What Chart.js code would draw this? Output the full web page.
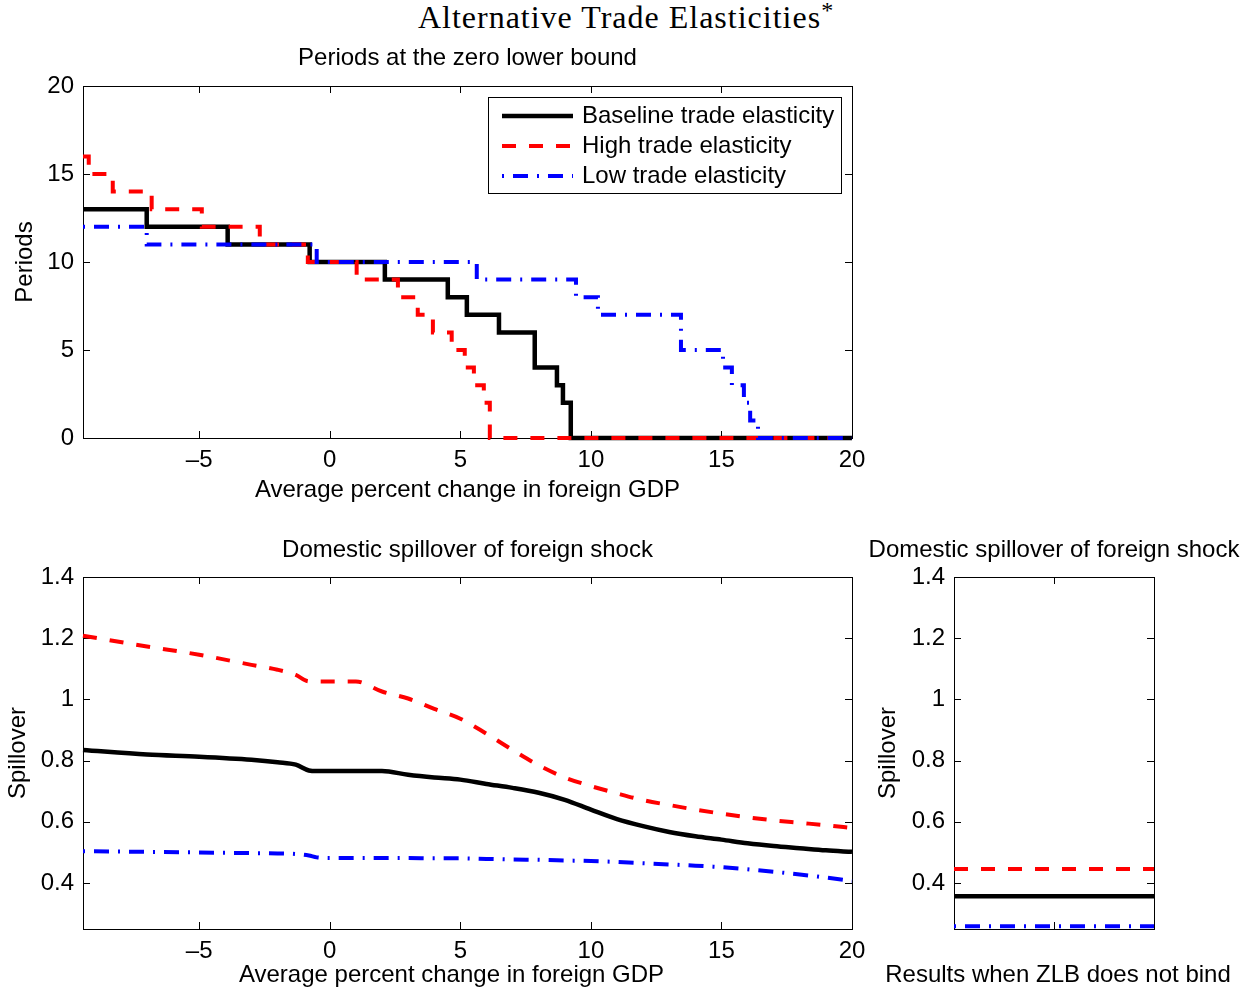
<!DOCTYPE html>
<html>
<head>
<meta charset="utf-8">
<script src="https://cdn.jsdelivr.net/npm/chart.js@4.4.1/dist/chart.umd.min.js"></script>
<style>
  html, body { margin: 0; padding: 0; background: #fff; }
  #page { position: relative; width: 1252px; height: 991px; overflow: hidden; background: #fff; }
  #title {
    position: absolute; left: 0; top: -1px; width: 1252px; text-align: center;
    font-family: "Liberation Serif", serif; font-size: 32px; line-height: 36px;
    letter-spacing: 1px; color: #000;
  }
  #title sup { font-size: 24px; vertical-align: 10px; line-height: 0; }
  canvas { position: absolute; }
</style>
</head>
<body>
<div id="page">
  <div id="title">Alternative Trade Elasticities<sup>*</sup></div>
  <canvas id="zlb" width="880" height="510" style="left:0;top:0"></canvas>
  <canvas id="spill" width="880" height="491" style="left:0;top:500px"></canvas>
  <canvas id="nobind" width="382" height="491" style="left:870px;top:500px"></canvas>
</div>
<script>
const seriesNames = ['Baseline trade elasticity', 'High trade elasticity', 'Low trade elasticity'];

// periods at the ZLB: x = where each step starts, y = number of periods
const baseZlbX = [-9.45, -7.01, -3.91, -0.77, 2.11, 4.52, 5.25, 6.48, 7.85, 8.70, 8.93, 9.23, 20];
const baseZlbY = [13, 12, 11, 10, 9, 8, 7, 6, 4, 3, 2, 0, 0];
const highZlbX = [-9.45, -9.23, -8.31, -6.82, -4.90, -2.68, -0.84, 1.03, 2.61, 3.37, 3.95, 4.67, 5.17, 5.52, 5.90, 6.13, 20];
const highZlbY = [16, 15, 14, 13, 12, 11, 10, 9, 8, 7, 6, 5, 4, 3, 2, 0, 0];
const lowZlbX = [-9.45, -7.01, -0.50, 5.63, 9.43, 10.27, 13.45, 15.06, 15.40, 15.86, 16.10, 16.40, 20];
const lowZlbY = [12, 11, 10, 9, 8, 7, 5, 4, 3, 2, 1, 0, 0];

// domestic spillover of the foreign shock
const spillX = [-9.45, -7, -5, -3, -2, -1.3, -0.8, -0.5, 0, 1, 2, 3, 4, 5, 6, 7, 8, 9, 10, 11, 12, 13, 14, 15, 16, 17, 18, 19, 20];
const baseSpill = [0.835, 0.820, 0.813, 0.803, 0.795, 0.787, 0.768, 0.766, 0.766, 0.766, 0.766, 0.754, 0.745, 0.738, 0.724, 0.711, 0.695, 0.672, 0.640, 0.609, 0.586, 0.567, 0.553, 0.542, 0.530, 0.521, 0.514, 0.507, 0.502];
const highSpill = [1.208, 1.173, 1.146, 1.113, 1.097, 1.080, 1.059, 1.059, 1.059, 1.059, 1.026, 1.003, 0.969, 0.937, 0.888, 0.835, 0.785, 0.745, 0.717, 0.693, 0.671, 0.655, 0.640, 0.627, 0.615, 0.605, 0.597, 0.589, 0.580];
const lowSpill = [0.504, 0.502, 0.500, 0.498, 0.497, 0.495, 0.490, 0.484, 0.482, 0.482, 0.482, 0.482, 0.481, 0.481, 0.479, 0.477, 0.476, 0.474, 0.472, 0.469, 0.465, 0.461, 0.457, 0.452, 0.445, 0.437, 0.428, 0.418, 0.407];

// results when the ZLB does not bind (base, high, low)
const noBindX = [0, 2];
const noBindSpill = [0.357, 0.446, 0.259];

const gdpTicks = [-5, 0, 5, 10, 15, 20];
const periodTicks = [0, 5, 10, 15, 20];
const spillTicks = [0.4, 0.6, 0.8, 1, 1.2, 1.4];
const noBindTicks = [1];

const styles = [
  { color: '#000000', dash: [], width: 4.5, order: 3 },
  { color: '#ff0000', dash: [14, 13], width: 4, order: 2 },
  { color: '#0000ff', dash: [2, 9, 15, 9], width: 4, order: 1 },
];

Chart.defaults.font.family = '"Liberation Sans", Arial, sans-serif';
Chart.defaults.font.size = 24;
Chart.defaults.color = '#000';

const FONT = '24px "Liberation Sans", Arial, sans-serif';

function series(i, xs, ys, extra) {
  const s = styles[i];
  return Object.assign({
    label: seriesNames[i],
    data: xs.map((x, k) => ({ x: x, y: ys[k] })),
    borderColor: s.color,
    borderDash: s.dash,
    borderWidth: s.width,
    order: s.order,
    pointRadius: 0,
    fill: false,
    clip: 6,
  }, extra || {});
}

// box round the plot, inward tick marks, titles, optional legend
function frame(opts) {
  return {
    id: 'frame',
    beforeDatasetsDraw(chart) {
      const { ctx, chartArea: a, scales } = chart;
      ctx.save();
      ctx.strokeStyle = '#000';
      ctx.lineWidth = 1;
      ctx.strokeRect(a.left + 0.5, a.top + 0.5, a.right - a.left, a.bottom - a.top);
      ctx.beginPath();
      scales.x.ticks.forEach(t => {
        const px = Math.round(scales.x.getPixelForValue(t.value)) + 0.5;
        ctx.moveTo(px, a.bottom); ctx.lineTo(px, a.bottom - 7);
        ctx.moveTo(px, a.top); ctx.lineTo(px, a.top + 7);
      });
      scales.y.ticks.forEach(t => {
        const py = Math.round(scales.y.getPixelForValue(t.value)) + 0.5;
        ctx.moveTo(a.left, py); ctx.lineTo(a.left + 7, py);
        ctx.moveTo(a.right, py); ctx.lineTo(a.right - 7, py);
      });
      ctx.stroke();
      ctx.restore();
    },
    afterDatasetsDraw(chart) {
      const { ctx, chartArea: a } = chart;
      const mid = (a.left + a.right) / 2;
      ctx.save();
      ctx.font = FONT;
      ctx.fillStyle = '#000';
      ctx.textAlign = 'center';
      ctx.textBaseline = 'middle';
      ctx.fillText(opts.title, mid, a.top - opts.gap);
      if (opts.xTitle) {
        ctx.fillText(opts.xTitle, mid + opts.xTitleDx, a.bottom + opts.xTitleDy);
      }
      if (opts.legend) {
        const sets = chart.data.datasets;
        const textW = Math.max(...sets.map(d => ctx.measureText(d.label).width));
        const w = Math.round(14 + 71 + 9 + textW + 7);
        const h = 96;
        const x0 = a.right - 11 - w;
        const y0 = a.top + 11;
        ctx.fillStyle = '#fff';
        ctx.fillRect(x0, y0, w, h);
        ctx.strokeStyle = '#000';
        ctx.lineWidth = 1;
        ctx.strokeRect(x0 + 0.5, y0 + 0.5, w, h);
        sets.forEach((d, i) => {
          const y = y0 + 19 + i * 30;
          ctx.beginPath();
          ctx.setLineDash(d.borderDash);
          ctx.strokeStyle = d.borderColor;
          ctx.lineWidth = d.borderWidth;
          ctx.moveTo(x0 + 14, y);
          ctx.lineTo(x0 + 85, y);
          ctx.stroke();
          ctx.setLineDash([]);
          ctx.fillStyle = '#000';
          ctx.textAlign = 'left';
          ctx.fillText(d.label, x0 + 94, y);
        });
      }
      ctx.restore();
    }
  };
}

function fixedTicks(list) {
  return s => { s.ticks = list.map(v => ({ value: v })); };
}
const gdpLabel = v => String(v).replace('-', '\u2013');
const spillLabel = v => String(Number(v.toFixed(1)));
const noGrid = { display: false, drawTicks: false };

// top: periods at the zero lower bound
new Chart(document.getElementById('zlb'), {
  type: 'line',
  data: {
    datasets: [
      series(0, baseZlbX, baseZlbY, { stepped: 'before' }),
      series(1, highZlbX, highZlbY, { stepped: 'before' }),
      series(2, lowZlbX, lowZlbY, { stepped: 'before' }),
    ]
  },
  options: {
    responsive: false,
    animation: false,
    layout: { padding: { top: 86, right: 28, left: 0, bottom: 0 } },
    plugins: { legend: { display: false }, title: { display: false }, tooltip: { enabled: false } },
    scales: {
      x: {
        type: 'linear', min: -9.45, max: 20,
        afterBuildTicks: fixedTicks(gdpTicks),
        afterFit: s => { s.height = 72; },
        grid: noGrid, border: { display: false },
        ticks: { padding: 8, callback: gdpLabel, maxRotation: 0 },
        title: { display: true, text: 'Average percent change in foreign GDP', padding: { top: 0, bottom: 5 } }
      },
      y: {
        type: 'linear', min: 0, max: 20,
        afterBuildTicks: fixedTicks(periodTicks),
        afterFit: s => { s.width = 83; },
        grid: noGrid, border: { display: false },
        ticks: { padding: 9 },
        title: { display: true, text: 'Periods', padding: { top: 11, bottom: 0 } }
      }
    }
  },
  plugins: [frame({ title: 'Periods at the zero lower bound', gap: 28, legend: true })]
});

// bottom left: spillover against foreign GDP
new Chart(document.getElementById('spill'), {
  type: 'line',
  data: {
    datasets: [
      series(0, spillX, baseSpill, { cubicInterpolationMode: 'monotone' }),
      series(1, spillX, highSpill, { cubicInterpolationMode: 'monotone' }),
      series(2, spillX, lowSpill, { cubicInterpolationMode: 'monotone' }),
    ]
  },
  options: {
    responsive: false,
    animation: false,
    layout: { padding: { top: 77, right: 28, left: 0, bottom: 0 } },
    plugins: { legend: { display: false }, title: { display: false }, tooltip: { enabled: false } },
    scales: {
      x: {
        type: 'linear', min: -9.45, max: 20,
        afterBuildTicks: fixedTicks(gdpTicks),
        afterFit: s => { s.height = 62; },
        grid: noGrid, border: { display: false },
        ticks: { padding: 8, callback: gdpLabel, maxRotation: 0 },
        title: { display: false }
      },
      y: {
        type: 'linear', min: 0.25, max: 1.4,
        afterBuildTicks: fixedTicks(spillTicks),
        afterFit: s => { s.width = 83; },
        grid: noGrid, border: { display: false },
        ticks: { padding: 9, callback: spillLabel },
        title: { display: true, text: 'Spillover', padding: { top: 4, bottom: 0 } }
      }
    }
  },
  plugins: [frame({
    title: 'Domestic spillover of foreign shock', gap: 27,
    xTitle: 'Average percent change in foreign GDP', xTitleDx: -16, xTitleDy: 46
  })]
});

// bottom right: spillover when the ZLB does not bind
new Chart(document.getElementById('nobind'), {
  type: 'line',
  data: {
    datasets: noBindSpill.map((v, i) => series(i, noBindX, noBindX.map(() => v)))
  },
  options: {
    responsive: false,
    animation: false,
    layout: { padding: { top: 77, right: 98, left: 0, bottom: 0 } },
    plugins: { legend: { display: false }, title: { display: false }, tooltip: { enabled: false } },
    scales: {
      x: {
        type: 'linear', min: 0, max: 2,
        afterBuildTicks: fixedTicks(noBindTicks),
        afterFit: s => { s.height = 62; },
        grid: noGrid, border: { display: false },
        ticks: { display: false },
        title: { display: false }
      },
      y: {
        type: 'linear', min: 0.25, max: 1.4,
        afterBuildTicks: fixedTicks(spillTicks),
        afterFit: s => { s.width = 84; },
        grid: noGrid, border: { display: false },
        ticks: { padding: 9, callback: spillLabel },
        title: { display: true, text: 'Spillover', padding: { top: 4, bottom: 0 } }
      }
    }
  },
  plugins: [frame({
    title: 'Domestic spillover of foreign shock', gap: 27,
    xTitle: 'Results when ZLB does not bind', xTitleDx: 4, xTitleDy: 46
  })]
});
</script>
</body>
</html>
